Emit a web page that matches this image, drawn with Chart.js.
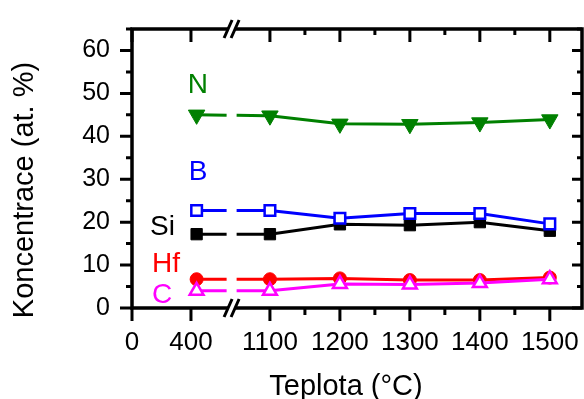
<!DOCTYPE html>
<html>
<head>
<meta charset="utf-8">
<script src="https://cdn.jsdelivr.net/npm/chart.js@4.4.1/dist/chart.umd.min.js"></script>
<style>
  body { margin: 0; background: #fff; }
  canvas { display: block; }
</style>
</head>
<body>
<canvas id="chart" width="584" height="399"></canvas>
<script>
// teplota zihani (°C) a slozeni vrstvy (at. %)
const teploty = [450, 1100, 1200, 1300, 1400, 1500];
const dusik   = [45.0, 44.8, 42.9, 42.8, 43.2, 43.9];
const bor     = [22.7, 22.7, 20.9, 22.0, 22.0, 19.6];
const kremik  = [17.2, 17.2, 19.5, 19.3, 20.0, 18.0];
const hafnium = [6.7, 6.7, 6.9, 6.5, 6.5, 7.1];
const uhlik   = [4.0, 4.0, 5.6, 5.5, 5.8, 6.7];

const xTicks = [0, 400, 1100, 1200, 1300, 1400, 1500];
const xMinor = [1150, 1250, 1350, 1450];
const yTicks = [0, 10, 20, 30, 40, 50, 60];

const FONT = "'Liberation Sans', Arial, sans-serif";

// lomena osa x: 0-400 stlacene, 400-1100 preruseni, od 1100 plne meritko
function toAxis(t) {
    if (t <= 400) return t * 0.2107;
    if (t <= 1100) return 84.29 + (t - 400) * 0.1612;
    return 197.14 + (t - 1100);
}

function serie(hodnoty) {
    return teploty.map((t, i) => ({ x: toAxis(t), y: hodnoty[i] }));
}

// prvni usek (pres preruseni osy) carkovane
const carkovane = { borderDash: ctx => ctx.p0DataIndex === 0 ? [30, 10] : undefined };

// pevna velikost os, bez automatickych okraju pro popisky
function pevne(rozmer, hodnota) {
    return s => {
        s[rozmer] = hodnota;
        s.paddingLeft = s.paddingRight = s.paddingTop = s.paddingBottom = 0;
    };
}

const ramecek = {
    id: 'ramecek',
    afterDraw(chart, args, opts) {
        const { ctx, chartArea: a, scales: { x, y } } = chart;
        ctx.save();
        ctx.strokeStyle = '#000';
        ctx.lineWidth = 3.5;
        ctx.beginPath();
        ctx.moveTo(a.left, a.top - 1.75); ctx.lineTo(a.left, a.bottom + 1.75);
        ctx.moveTo(a.right, a.top - 1.75); ctx.lineTo(a.right, a.bottom + 1.75);
        ctx.moveTo(a.left, a.bottom); ctx.lineTo(a.right, a.bottom);
        ctx.moveTo(a.left, a.top); ctx.lineTo(a.right, a.top);
        ctx.stroke();

        // znacky na osach
        ctx.lineWidth = 3;
        ctx.beginPath();
        xTicks.forEach(t => {
            const px = x.getPixelForValue(toAxis(t));
            ctx.moveTo(px, a.bottom); ctx.lineTo(px, a.bottom + 13);
            ctx.moveTo(px, a.top); ctx.lineTo(px, a.top + 13);
        });
        xMinor.forEach(t => {
            const px = x.getPixelForValue(toAxis(t));
            ctx.moveTo(px, a.bottom); ctx.lineTo(px, a.bottom + 7);
            ctx.moveTo(px, a.top); ctx.lineTo(px, a.top + 6);
        });
        for (let v = 0; v <= 65; v += 5) {
            const py = y.getPixelForValue(v);
            const major = v % 10 === 0;
            ctx.moveTo(a.left - (major ? 12 : 6), py); ctx.lineTo(a.left, py);
            ctx.moveTo(a.right - (major ? 10 : 5), py); ctx.lineTo(a.right, py);
        }
        ctx.stroke();

        // preruseni osy //
        const b = x.getPixelForValue(toAxis(opts.preruseni));
        [a.top, a.bottom].forEach(y0 => {
            ctx.fillStyle = '#fff';
            ctx.beginPath();
            ctx.moveTo(b - 7.5, y0 + 9); ctx.lineTo(b + 0.5, y0 - 9);
            ctx.lineTo(b + 7.5, y0 - 9); ctx.lineTo(b - 0.5, y0 + 9);
            ctx.closePath();
            ctx.fill();
            ctx.lineWidth = 3;
            ctx.beginPath();
            ctx.moveTo(b - 7.5, y0 + 9); ctx.lineTo(b + 0.5, y0 - 9);
            ctx.moveTo(b - 0.5, y0 + 9); ctx.lineTo(b + 7.5, y0 - 9);
            ctx.stroke();
        });

        // popisky os
        ctx.fillStyle = '#000';
        ctx.font = '29px ' + FONT;
        ctx.textAlign = 'center';
        ctx.textBaseline = 'alphabetic';
        ctx.fillText('Teplota (°C)', 346, 395);
        ctx.translate(33, 190);
        ctx.rotate(-Math.PI / 2);
        ctx.fillText('Koncentrace (at. %)', 0, 0);
        ctx.restore();

        // nazvy prvku u krivek
        ctx.save();
        ctx.font = '28px ' + FONT;
        ctx.textBaseline = 'alphabetic';
        opts.popisky.forEach(p => {
            ctx.fillStyle = p.barva;
            ctx.textAlign = p.zarovnani;
            ctx.fillText(p.text, x.getPixelForValue(toAxis(p.t)), y.getPixelForValue(p.v));
        });
        ctx.restore();
    }
};

new Chart(document.getElementById('chart'), {
    type: 'line',
    data: {
        datasets: [{
            label: 'N',
            data: serie(dusik),
            borderColor: '#008000',
            backgroundColor: '#008000',
            pointStyle: 'triangle',
            rotation: 180,
            pointRadius: 9.5,
            pointBorderWidth: 1,
            order: 3
        }, {
            label: 'B',
            data: serie(bor),
            borderColor: '#0000ff',
            backgroundColor: '#ffffff',
            pointStyle: 'rect',
            pointRadius: 7.5,
            pointBorderWidth: 2.5,
            order: 1
        }, {
            label: 'Si',
            data: serie(kremik),
            borderColor: '#000000',
            backgroundColor: '#000000',
            pointStyle: 'rect',
            pointRadius: 8,
            pointBorderWidth: 1,
            order: 2
        }, {
            label: 'Hf',
            data: serie(hafnium),
            borderColor: '#ff0000',
            backgroundColor: '#ff0000',
            pointStyle: 'circle',
            pointRadius: 6.5,
            pointBorderWidth: 1,
            order: 2
        }, {
            label: 'C',
            data: serie(uhlik),
            borderColor: '#ff00ff',
            backgroundColor: '#ffffff',
            pointStyle: 'triangle',
            pointRadius: 8,
            pointBorderWidth: 2.5,
            order: 1
        }]
    },
    options: {
        responsive: false,
        animation: false,
        layout: { autoPadding: false, padding: { top: 29, right: 2 } },
        datasets: {
            line: { borderWidth: 3, tension: 0, segment: carkovane }
        },
        scales: {
            x: {
                type: 'linear',
                min: 0,
                max: toAxis(1546),
                afterBuildTicks: s => { s.ticks = xTicks.map(t => ({ value: toAxis(t) })); },
                afterFit: pevne('height', 91),
                grid: { display: false, drawTicks: false },
                border: { display: false },
                ticks: {
                    autoSkip: false,
                    maxRotation: 0,
                    padding: 19,
                    color: '#000',
                    font: { size: 26, family: FONT },
                    callback: (v, i) => xTicks[i]
                }
            },
            y: {
                min: 0,
                max: 65,
                afterBuildTicks: s => { s.ticks = yTicks.map(v => ({ value: v })); },
                afterFit: pevne('width', 132),
                grid: { display: false, drawTicks: false },
                border: { display: false },
                ticks: {
                    padding: 22,
                    color: '#000',
                    font: { size: 25, family: FONT }
                }
            }
        },
        plugins: {
            legend: { display: false },
            tooltip: { enabled: false },
            ramecek: {
                preruseni: 760,
                popisky: [
                    { text: 'N', t: 462, v: 50.1, barva: '#008000', zarovnani: 'center' },
                    { text: 'B', t: 462, v: 29.8, barva: '#0000ff', zarovnani: 'center' },
                    { text: 'Si', t: 122, v: 17.0, barva: '#000000', zarovnani: 'left' },
                    { text: 'Hf', t: 136, v: 8.4, barva: '#ff0000', zarovnani: 'left' },
                    { text: 'C', t: 136, v: 1.2, barva: '#ff00ff', zarovnani: 'left' }
                ]
            }
        }
    },
    plugins: [ramecek]
});
</script>
</body>
</html>
